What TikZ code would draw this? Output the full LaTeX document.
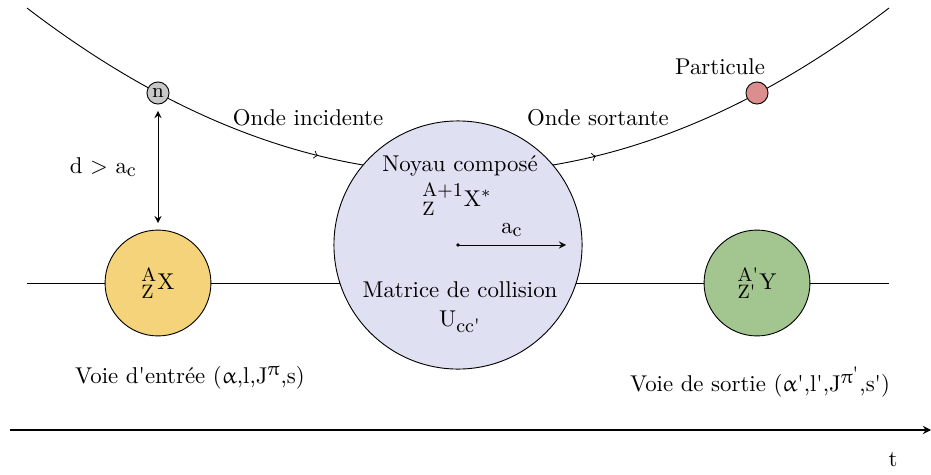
\documentclass[tikz,border=0pt]{standalone}
\usepackage{amsmath}
\usepackage{upgreek}
\usetikzlibrary{positioning,backgrounds}

\definecolor{lavande}{RGB}{223,224,242}
\definecolor{jaune}{RGB}{244,211,122}
\definecolor{vert}{RGB}{163,197,143}
\definecolor{rose}{RGB}{220,142,142}
\definecolor{gris}{RGB}{200,200,200}

\newcommand{\quo}{\textquotesingle}
\newcommand{\ind}[1]{\hbox{\fontsize{8.5}{10}\selectfont #1}}

\tikzset{
  noyau/.style={circle, draw, fill=lavande, minimum size=3.82cm, inner sep=0pt},
  cible/.style={circle, draw, minimum size=1.63cm, inner sep=0pt},
  bille/.style={circle, draw, minimum size=0.34cm, inner sep=0pt},
  onde/.style={samples=40},
}

\begin{document}
\begin{tikzpicture}[x=0.0154cm, y=-0.0154cm, >=stealth]
\useasboundingbox (0,0) rectangle (931,474);
% Noyaux et particules
\node[noyau] (cn) at (458,245) {};
\node[cible, fill=jaune] (entree) at (158,283) {${}^{\ind{A}}_{\ind{Z}}$X};
\node[cible, fill=vert] (sortie) at (757,283) {${}^{\ind{A\quo}}_{\ind{Z\quo}}$Y};
\node[bille, fill=gris] (n) at (158,93) {\small n};
\node[bille, fill=rose] (part) at (757,93) {};
\node (partlbl) at (720,67) {Particule};
% Voies et onde
\coordinate (vg) at (27,283);
\coordinate (vd) at (889,283);
\begin{scope}[on background layer]
\draw (vg) -- (vd);
\draw[onde, -to, domain=27:318] plot (\x, {173 - ((\x-458)*0.0298)^2});
\draw[onde, -to, domain=318:596] plot (\x, {173 - ((\x-458)*0.0298)^2});
\draw[onde, domain=596:889] plot (\x, {173 - ((\x-458)*0.0298)^2});
\end{scope}
\node (inc) at (308,118) {Onde incidente};
\node (sort) at (598,118) {Onde sortante};
% Distance
\draw[<->, shorten <=1mm, shorten >=1mm] (n) -- (entree)
  node[midway, left=0.2cm] {d $>$ a$_{\ind{c}}$};
% Noyau compose
\node (titre) at (460,166) {Noyau compos\'e};
\node (cnx) at (457,199) {${}^{\ind{A+1}}_{\ind{Z}}$X$^{*}$};
\coordinate (rayon) at (566,245);
\fill (cn.center) circle (1.8);
\draw[->] (cn.center) -- (rayon) node[midway, above] {a$_{\ind{c}}$};
\node (mat) at (460,290) {Matrice de collision};
\node (ucc) at (460,322) {U$_{\ind{cc\quo}}$};
% Voies
\node (ventree) at (190,378) {Voie d\quo entr\'ee ($\upalpha$,l,J$^{\ind{$\uppi$}}$,s)};
\node (vsortie) at (760,382) {Voie de sortie ($\upalpha$\quo,l\quo,J$^{\ind{$\uppi$\raisebox{1.5pt}{\quo}}}$,s\quo)};
% Temps
\coordinate (t0) at (10,430);
\coordinate (t1) at (931,430);
\draw[semithick, ->] (t0) -- (t1);
\node (t) at (893,460) {t};
\end{tikzpicture}
\end{document}
